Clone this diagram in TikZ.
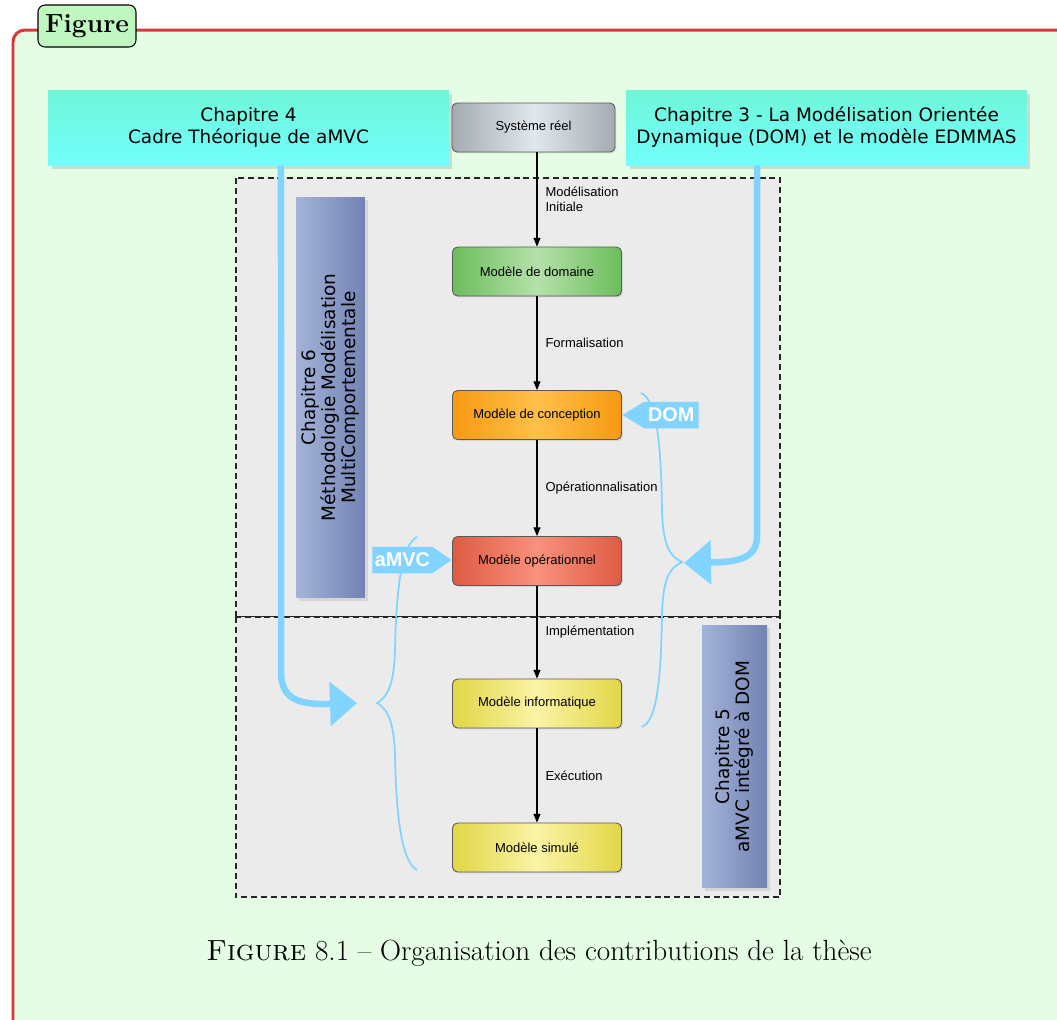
\documentclass[tikz,border=0pt]{standalone}
\usepackage{fontspec}
\usepackage{xcolor}
\usetikzlibrary{arrows.meta,shadows,shapes.symbols}
\newfontfamily\helv{Liberation Sans}
\newfontfamily\dejavu{DejaVu Sans}
\definecolor{framered}{HTML}{D83A3C}
\definecolor{framebg}{HTML}{E4FDE4}
\definecolor{tagbg}{HTML}{C0F7C0}
\definecolor{zonegray}{HTML}{EBEBEB}
\definecolor{flowblue}{HTML}{80D4FF}
\definecolor{chaptop}{HTML}{6FF6D8}
\definecolor{chapbot}{HTML}{72FEFC}
\definecolor{sidelight}{HTML}{A3B3D8}
\definecolor{sidedark}{HTML}{7383B3}
\definecolor{sysout}{HTML}{A4ABB0}
\definecolor{sysin}{HTML}{E0E8EE}
\definecolor{domout}{HTML}{6BBE5C}
\definecolor{domin}{HTML}{B5E0AA}
\definecolor{conout}{HTML}{F79A12}
\definecolor{conin}{HTML}{FFC04A}
\definecolor{opout}{HTML}{DF5B43}
\definecolor{opin}{HTML}{F8917D}
\definecolor{infout}{HTML}{E2D645}
\definecolor{infin}{HTML}{FAF3A6}

\begin{document}
\begin{tikzpicture}[x=0.02cm,y=-0.02cm,
  model/.style={draw=black!65,line width=0.5pt,rounded corners=0.1cm,minimum width=3.38cm,
    minimum height=0.98cm,inner sep=0pt,font=\helv\fontsize{7.4}{9}\selectfont,
    drop shadow={opacity=0.2,shadow xshift=0.8pt,shadow yshift=-0.8pt}},
  modelfill/.style 2 args={left color=#1,right color=#1,middle color=#2},
  chapbox/.style={top color=chaptop,bottom color=chapbot,minimum width=8.02cm,minimum height=1.5cm,
    inner sep=0pt,align=center,font=\dejavu\fontsize{10.5}{12.5}\selectfont,
    drop shadow={opacity=0.25,shadow xshift=2pt,shadow yshift=-2pt}},
  sidebox/.style={left color=sidelight,right color=sidedark,rotate=90,inner sep=0pt,align=center,
    font=\dejavu\fontsize{10.5}{11.3}\selectfont,
    drop shadow={opacity=0.2,shadow xshift=1.5pt,shadow yshift=-1.5pt}},
  zone/.style={fill=zonegray,draw=black!85,line width=0.7pt,dash pattern=on 3.4pt off 2.2pt},
  flow/.style={-{Triangle[length=5pt,width=4pt]},line width=0.6pt},
  steplabel/.style={right,xshift=0.16cm,inner sep=0pt,align=left,font=\helv\fontsize{7.4}{8.6}\selectfont},
  fatarrow/.style={draw=flowblue,line width=0.13cm,-{Triangle[length=0.54cm,width=0.86cm]}},
  brace/.style={draw=flowblue,line width=0.035cm},
  tagsig/.style={signal,fill=flowblue,text=white,inner sep=0pt,minimum height=0.53cm,
    font=\helv\bfseries\fontsize{11.3}{13}\selectfont}]

\useasboundingbox (0,0) rectangle (1057,1019);
\clip (0,0) rectangle (1057,1019);
\fill[white] (0,0) rectangle (1057,1019);
\draw[framered,line width=0.06cm,fill=framebg,rounded corners=0.24cm] (13,30) rectangle (1120,1120);
\node[draw=black,line width=0.6pt,fill=tagbg,rounded corners=0.14cm,minimum width=1.96cm,minimum height=0.84cm,
  inner sep=0pt,font=\bfseries\fontsize{15}{18}\selectfont] (tag) at (87,26) {Figure};

\draw[zone] (236,178) rectangle (780,617);
\draw[zone] (236,617) rectangle (780,897);

\draw[brace] (417,537) .. controls (400,545) and (396,600) .. (395,650) .. controls (394,690) and (385,698) .. (377,703)
  .. controls (385,708) and (394,716) .. (395,756) .. controls (396,806) and (400,861) .. (417,870);
\draw[brace] (641,393) .. controls (658,400) and (661,450) .. (662,510) .. controls (663,550) and (672,557) .. (682,562)
  .. controls (672,567) and (663,574) .. (662,614) .. controls (661,674) and (658,720) .. (642,727);

\node[chapbox] (chap4) at (248.5,127.5) {Chapitre 4\\Cadre Théorique de aMVC};
\node[chapbox] (chap3) at (826.5,127.5) {Chapitre 3 - La Modélisation Orientée\\Dynamique (DOM) et le modèle EDMMAS};
\node[model,modelfill={sysout}{sysin},minimum width=3.26cm] (sys) at (533.5,127.5) {Système réel};

\coordinate (ltip) at (357,703);
\coordinate (rtip) at (684,563);
\draw[fatarrow] ([xshift=0.65cm]chap4.south) -- (281,672) .. controls (281,700) and (300,705) .. (ltip);
\draw[fatarrow] ([xshift=-1.39cm]chap3.south) -- (757,536) .. controls (757,560) and (735,562) .. (rtip);

\node[sidebox,minimum width=8.02cm,minimum height=1.38cm] (chap6) at (330.5,397.5)
  {Chapitre 6\\Méthodologie Modélisation\\MultiComportementale};
\node[sidebox,minimum width=5.26cm,minimum height=1.3cm] (chap5) at (734.5,756.5)
  {Chapitre 5\\aMVC intégré à DOM};

\node[model,modelfill={domout}{domin}] (domaine) at (537,271.5) {Modèle de domaine};
\node[model,modelfill={conout}{conin}] (conception) at (537,415) {Modèle de conception};
\node[model,modelfill={opout}{opin}] (operationnel) at (537,561) {Modèle opérationnel};
\node[model,modelfill={infout}{infin}] (informatique) at (537,703.5) {Modèle informatique};
\node[model,modelfill={infout}{infin}] (simule) at (537,847.5) {Modèle simulé};

\draw[flow] (sys.south -| domaine.north) -- node[steplabel] {Modélisation\\Initiale} (domaine);
\draw[flow] (domaine) -- node[steplabel] {Formalisation} (conception);
\draw[flow] (conception) -- node[steplabel] {Opérationnalisation} (operationnel);
\draw[flow] (operationnel) -- node[steplabel] {Implémentation} (informatique);
\draw[flow] (informatique) -- node[steplabel] {Exécution} (simule);

\node[tagsig,signal to=west,signal pointer angle=64,minimum width=1.52cm,anchor=west] (dom) at (622,415) {DOM};
\node[tagsig,signal to=east,signal pointer angle=70,minimum width=1.58cm,anchor=east] (amvc) at (452,560) {aMVC};

\node[font=\fontsize{16.6}{19}\selectfont] (caption) at (539,953) {\textsc{Figure} 8.1 -- Organisation des contributions de la thèse};
\end{tikzpicture}
\end{document}
